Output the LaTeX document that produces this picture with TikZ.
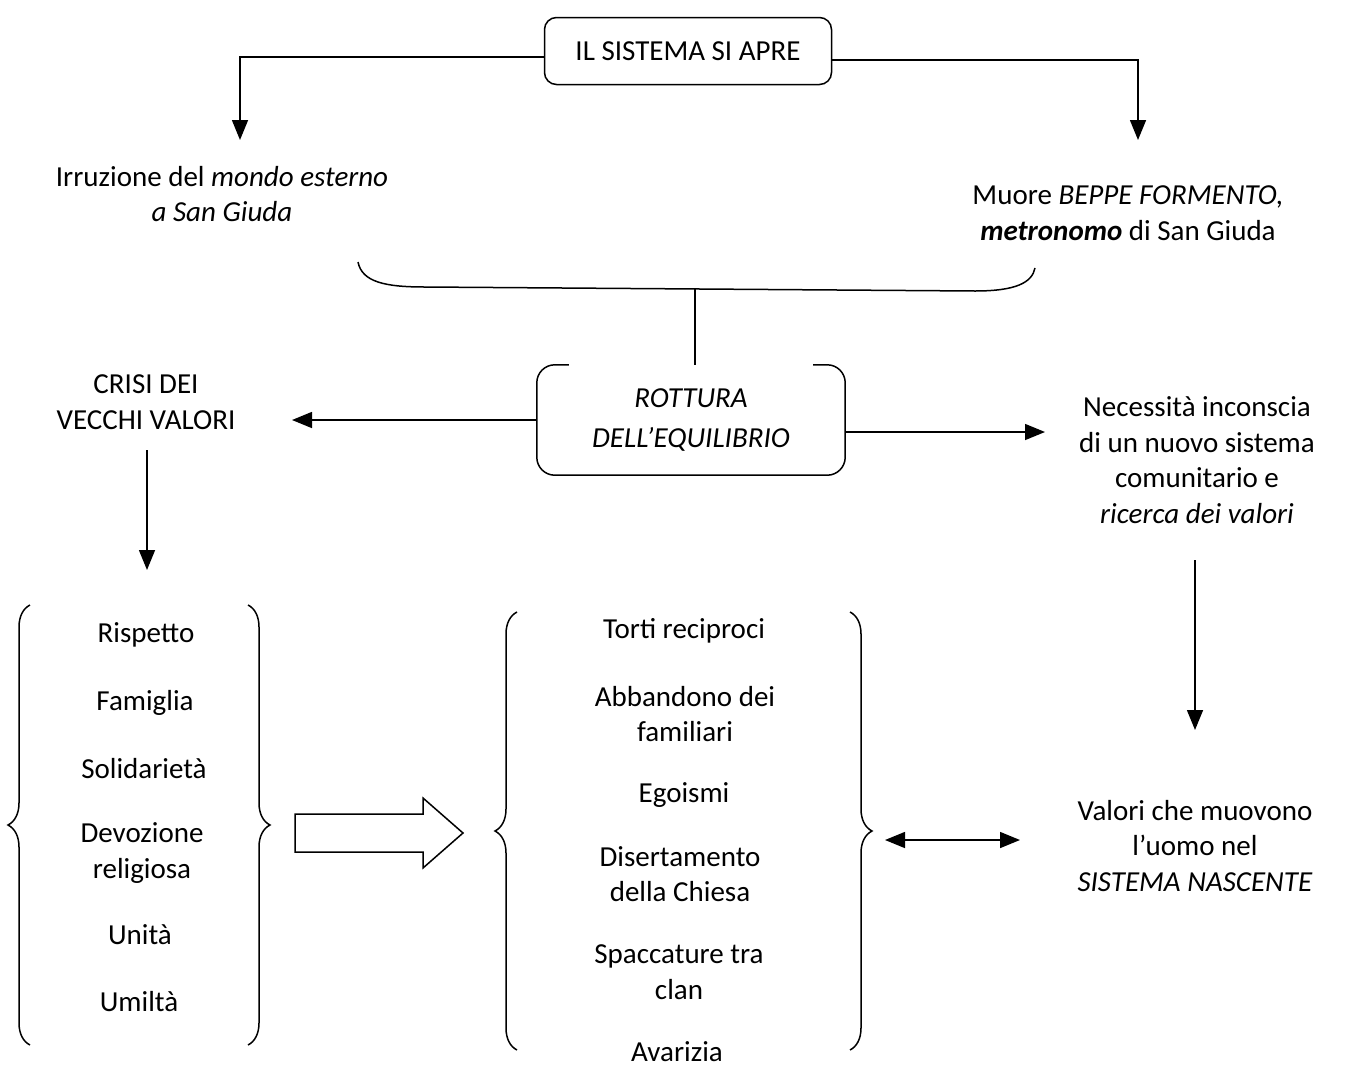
\documentclass[tikz,border=0pt]{standalone}
\usepackage{fontspec}
\setmainfont{Carlito}
\usetikzlibrary{arrows.meta,decorations.pathreplacing}

\begin{document}
\begin{tikzpicture}[x=1pt,y=-1pt,
    testo/.style={align=center,inner sep=0pt,font=\fontsize{29}{35.5}\selectfont},
    linea/.style={line width=1.5pt},
    freccia/.style={linea,-{Triangle[length=20pt,width=16pt]}},
    doppia/.style={linea,{Triangle[length=20pt,width=16pt]}-{Triangle[length=20pt,width=16pt]}},
    graffa/.style={linea,decorate,decoration={brace,amplitude=22pt}}]
   \useasboundingbox (0,0) rectangle (1351,1079);

   \node[testo,draw,linea,rounded corners=12pt,minimum width=287pt,minimum height=67pt] (sist) at (688,51) {IL SISTEMA SI APRE};
   \node[testo] (irr) at (222,194) {Irruzione del \textit{mondo esterno}\\\textit{a San Giuda}};
   \node[testo] (muore) at (1128,213) {Muore \textit{BEPPE FORMENTO,}\\\textbf{\textit{metronomo}} di San Giuda};

   \coordinate (tipIrr) at (240,140);
   \coordinate (tipMuore) at (1138,140);
   \draw[freccia] ([yshift=-6pt]sist.west) -| (tipIrr);
   \draw[freccia] ([yshift=-9pt]sist.east) -| (tipMuore);

   \draw[linea] (358,262) .. controls (362,282) and (385,287) .. (425,287) -- (975,291) .. controls (1015,291) and (1032,283) .. (1035,268);
   \coordinate (stelo) at (695,289);

   \node[testo,minimum width=308pt,minimum height=110pt] (rott) at (691,420) {\textit{ROTTURA}\\[5pt]\textit{DELL'EQUILIBRIO}};
   \draw[linea,rounded corners=18pt] ([xshift=32pt]rott.north west) -- (rott.north west) -- (rott.south west) -- (rott.south east) -- (rott.north east) -- ([xshift=-32pt]rott.north east);
   \draw[linea] (stelo) -- (stelo |- rott.north);

   \node[testo] (crisi) at (146,402) {CRISI DEI\\VECCHI VALORI};
   \node[testo] (nec) at (1197,460) {Necessità inconscia\\di un nuovo sistema\\comunitario e\\\textit{ricerca dei valori}};
   \coordinate (tipCrisi) at (292,420);
   \coordinate (tipNec) at (1045,432);
   \draw[freccia] (rott.west) -- (tipCrisi);
   \draw[freccia] (rott.east |- tipNec) -- (tipNec);

   \coordinate (tipVecchi) at (147,570);
   \coordinate (tipNuovi) at (1195,730);
   \draw[freccia] (147,450) -- (tipVecchi);
   \draw[freccia] (1195,560) -- (tipNuovi);

   \node[testo] (risp) at (146,635) {Rispetto};
   \node[testo] (fam) at (145,703) {Famiglia};
   \node[testo] (sol) at (144,769) {Solidarietà};
   \node[testo] (dev) at (142,853) {Devozione\\religiosa};
   \node[testo] (unit) at (140,935) {Unità};
   \node[testo] (umil) at (139,1002) {Umiltà};
   \draw[graffa] (30,1045) -- (30,605);
   \draw[graffa] (248,605) -- (248,1045);

   \draw[linea] (295,814) -- (423,814) -- (423,798) -- (463,833) -- (423,868) -- (423,852) -- (295,852) -- cycle;

   \node[testo] (torti) at (684,631) {Torti reciproci};
   \node[testo] (abb) at (685,714) {Abbandono dei\\familiari};
   \node[testo] (ego) at (684,795) {Egoismi};
   \node[testo] (dis) at (680,874) {Disertamento\\della Chiesa};
   \node[testo] (spac) at (679,972) {Spaccature tra\\clan};
   \node[testo] (ava) at (677,1052) {Avarizia};
   \draw[graffa] (517,1050) -- (517,612);
   \draw[graffa] (850,612) -- (850,1050);

   \node[testo] (val) at (1195,846) {Valori che muovono\\l'uomo nel\\\textit{SISTEMA NASCENTE}};
   \coordinate (sxVal) at (885,840);
   \coordinate (dxVal) at (1020,840);
   \draw[doppia] (sxVal) -- (dxVal);
\end{tikzpicture}
\end{document}
